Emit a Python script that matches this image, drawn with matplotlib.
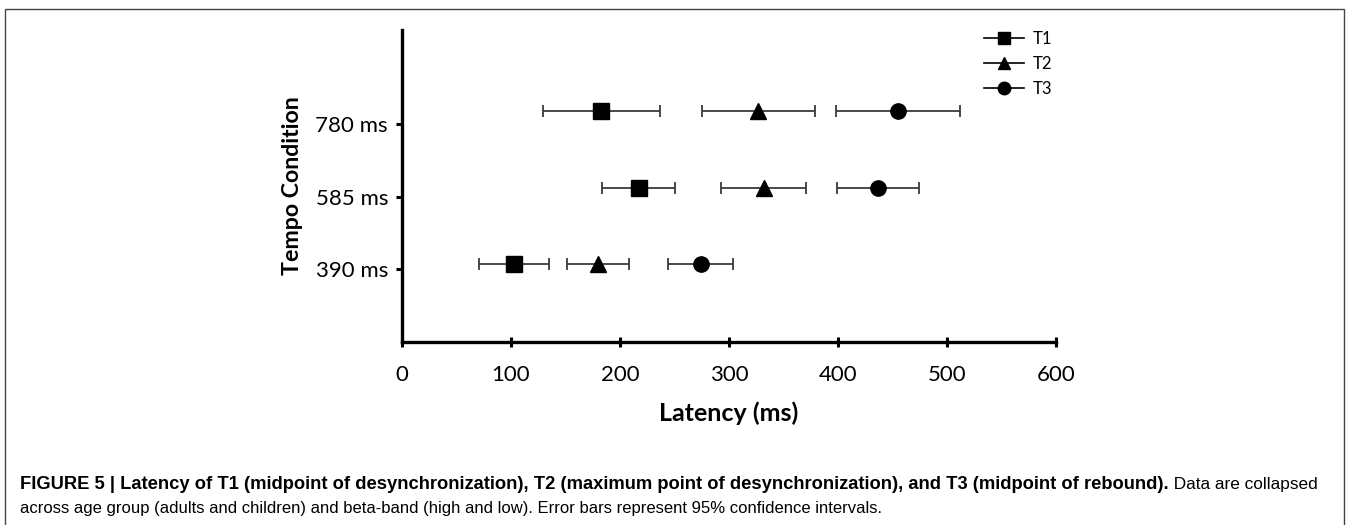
import matplotlib
matplotlib.use('Agg')
import matplotlib.pyplot as plt
from matplotlib.lines import Line2D
from matplotlib.patches import Rectangle


# tempo conditions (y rows) and the latency of each time point
conditions = ['390 ms', '585 ms', '780 ms']
row_ticks = [1, 2, 3]
row_y = [1.07, 2.12, 3.18]

t1_mean = [103, 217, 183]
t1_ci = [32, 33.5, 53.5]
t2_mean = [180, 332, 327]
t2_ci = [28.5, 39, 52]
t3_mean = [274, 437, 455]
t3_ci = [30, 37.5, 57]

x_ticks = [0, 100, 200, 300, 400, 500, 600]

caption_bold = ('FIGURE 5 | Latency of T1 (midpoint of desynchronization), '
                'T2 (maximum point of desynchronization), and T3 (midpoint of rebound).')
caption_rest = ' Data are collapsed'
caption_line2 = ('across age group (adults and children) and beta-band (high and low). '
                 'Error bars represent 95% confidence intervals.')

W, H = 1348, 525
fig = plt.figure(figsize=(W/100, H/100), dpi=100)
ax = fig.add_axes([402/W, 1 - 342/H, 654/W, 312/H])

font = 'Lato'
series = [(t1_mean, t1_ci, 's', 'T1'),
          (t2_mean, t2_ci, '^', 'T2'),
          (t3_mean, t3_ci, 'o', 'T3')]

handles = []
for mean, ci, mk, name in series:
    ax.errorbar(mean, row_y, xerr=ci, fmt='none', ecolor='#3a3a3a',
                elinewidth=1.3, capsize=4.5, capthick=1.3, zorder=2)
    ax.plot(mean, row_y, linestyle='none', marker=mk, markersize=11,
            color='black', zorder=3)
    handles.append(Line2D([], [], color='black', lw=1.2, marker=mk,
                          markersize=9, label=name))

ax.set_xlim(0, 600)
ax.set_ylim(0, 4.29)
ax.set_xticks(x_ticks)
ax.set_xticklabels([str(v) for v in x_ticks], fontsize=16, family=font)
ax.set_yticks(row_ticks)
ax.set_yticklabels(conditions, fontsize=16, family=font)

for s in ['top', 'right']:
    ax.spines[s].set_visible(False)
for s in ['left', 'bottom']:
    ax.spines[s].set_linewidth(2.4)
ax.tick_params(axis='x', length=7, width=2.2, direction='inout', pad=13)
ax.tick_params(axis='y', length=4, width=2.2, direction='out', pad=6)

ax.set_xlabel('Latency (ms)', fontsize=18, family=font, fontweight='bold',
              labelpad=12)
ax.set_ylabel('Tempo Condition', fontsize=16.7, family=font, fontweight='bold',
              labelpad=9)

fig.legend(handles=handles, loc='upper left', bbox_to_anchor=(969/W, 1 - 16/H),
           frameon=False, handlelength=2.4, labelspacing=0.55,
           handletextpad=0.5, prop={'family': font, 'size': 12})

# frame around the figure, open at the bottom
fig.add_artist(Rectangle((5/W, -0.05), 1339/W, 1.05 - 9/H,
                         transform=fig.transFigure, fill=False,
                         edgecolor='#444444', lw=1.0, clip_on=False))

# caption: bold lead, then regular text on the same baseline
cap = 'Liberation Sans'
tb = fig.text(20/W, 1 - 489/H, caption_bold, fontsize=13.2, family=cap,
              fontweight='bold', va='baseline', ha='left')
fig.canvas.draw()
bb = tb.get_window_extent(fig.canvas.get_renderer())
fig.text(bb.x1/W, 1 - 489/H, caption_rest, fontsize=12.4, family=cap,
         va='baseline', ha='left')
fig.text(20/W, 1 - 509/H, caption_line2, fontsize=12.0, family=cap,
         va='center', ha='left')

fig.savefig('out.png', dpi=100)
